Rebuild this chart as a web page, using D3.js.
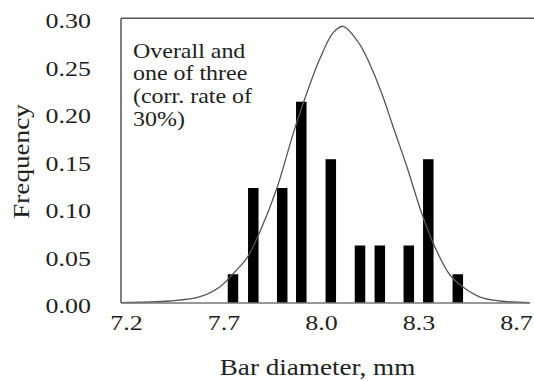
<!DOCTYPE html>
<html>
<head>
<meta charset="utf-8">
<script src="https://cdn.jsdelivr.net/npm/d3@7"></script>
<style>
  html, body { margin: 0; padding: 0; background: #fff; }
  svg { display: block; }
  text { font-family: "Liberation Serif", "Times New Roman", serif; fill: #222; }
</style>
</head>
<body>
<div id="chart"></div>
<script>
// ---- data ----
const binCenters = [7.6115, 7.6896, 7.8008, 7.8742, 7.9877, 8.1, 8.1762, 8.2877, 8.3627, 8.4762];
const frequencies = [0.0303, 0.1212, 0.1212, 0.2121, 0.1515, 0.0606, 0.0606, 0.0606, 0.1515, 0.0303];
const curveX = [7.181, 7.369, 7.485, 7.562, 7.619, 7.664, 7.715, 7.780, 7.843, 7.888, 7.946, 7.997, 8.035,
                8.100, 8.150, 8.188, 8.227, 8.281, 8.338, 8.388, 8.446, 8.496, 8.562, 8.638, 8.754];
const curveY = [0.0005, 0.0021, 0.0066, 0.0172, 0.0330, 0.0470, 0.0751, 0.1207, 0.1785, 0.2155, 0.2576, 0.2849, 0.2916,
                0.2720, 0.2440, 0.2175, 0.1860, 0.1430, 0.0940, 0.0590, 0.0295, 0.0168, 0.0063, 0.0021, 0.0005];
const xTickValues = [7.2, 7.575, 7.95, 8.325, 8.7];
const xTickLabels = ["7.2", "7.7", "8.0", "8.3", "8.7"];
const yTickValues = [0, 0.05, 0.10, 0.15, 0.20, 0.25, 0.30];
const annotationLines = ["Overall and", "one of three", "(corr. rate of", "30%)"];
const xTitle = "Bar diameter, mm";
const yTitle = "Frequency";

// ---- layout ----
const W = 534, H = 381;
const plot = { left: 121, top: 18.3, right: 530, bottom: 303 };
const SX = 1.18; // horizontal stretch of the original typeface

const svg = d3.select("#chart").append("svg").attr("width", W).attr("height", H);

const x = d3.scaleLinear().domain([7.2, 8.7]).range([126, 516]);
const y = d3.scaleLinear().domain([0, 0.30]).range([plot.bottom, plot.top]);

// bars
const barW = 10.5;
svg.append("g").selectAll("rect").data(binCenters).join("rect")
  .attr("x", (d) => x(d) - barW / 2)
  .attr("y", (d, i) => y(frequencies[i]))
  .attr("width", barW)
  .attr("height", (d, i) => y(0) - y(frequencies[i]))
  .attr("fill", "#000");

// normal curve
const pts = curveX.map((d, i) => [d, curveY[i]]);
svg.append("path")
  .datum(pts)
  .attr("fill", "none")
  .attr("stroke", "#555")
  .attr("stroke-width", 1.3)
  .attr("d", d3.line().x(d => x(d[0])).y(d => y(d[1])).curve(d3.curveCatmullRom.alpha(0.5)));

// frame lines
svg.append("line").attr("x1", plot.left).attr("x2", plot.left).attr("y1", plot.top).attr("y2", plot.bottom)
  .attr("stroke", "#555").attr("stroke-width", 1.5);
svg.append("line").attr("x1", plot.left).attr("x2", W).attr("y1", plot.top).attr("y2", plot.top)
  .attr("stroke", "#555").attr("stroke-width", 1.5);

// x axis
const xAxis = d3.axisBottom(x).tickValues(xTickValues).tickSize(0).tickPadding(0)
  .tickFormat((d, i) => xTickLabels[i]);
const gx = svg.append("g").attr("transform", `translate(0,${plot.bottom})`).call(xAxis);
gx.select(".domain").remove();
gx.selectAll("text")
  .attr("y", 0).attr("dy", null)
  .attr("transform", `translate(0,27) scale(${SX},1)`)
  .style("font-size", "22px").style("font-family", "Liberation Serif").attr("fill", "#222");
svg.append("line").attr("x1", plot.left).attr("x2", plot.right).attr("y1", plot.bottom).attr("y2", plot.bottom)
  .attr("stroke", "#777").attr("stroke-width", 1.3);

// y axis
const yAxis = d3.axisLeft(y).tickValues(yTickValues).tickSize(0).tickPadding(0)
  .tickFormat(d3.format(".2f"));
const gy = svg.append("g").attr("transform", `translate(91,0)`).call(yAxis);
gy.select(".domain").remove();
gy.selectAll("text")
  .attr("x", 0).attr("dy", null).attr("y", 0)
  .attr("transform", `translate(0,9.5) scale(${SX},1)`)
  .attr("text-anchor", "end")
  .style("font-size", "22px").style("font-family", "Liberation Serif").attr("fill", "#222");

// axis titles
svg.append("text")
  .attr("transform", `translate(317.5,375) scale(${SX},1)`)
  .attr("text-anchor", "middle")
  .style("font-size", "23px")
  .text(xTitle);
svg.append("text")
  .attr("transform", `translate(28.5,161.5) rotate(-90) scale(${SX},1)`)
  .attr("text-anchor", "middle")
  .style("font-size", "23px")
  .text(yTitle);

// annotation
svg.append("g").selectAll("text").data(annotationLines).join("text")
  .attr("transform", (d, i) => `translate(133,${57.7 + i * 22.7}) scale(${SX},1)`)
  .style("font-size", "20.3px")
  .text(d => d);
</script>
</body>
</html>
